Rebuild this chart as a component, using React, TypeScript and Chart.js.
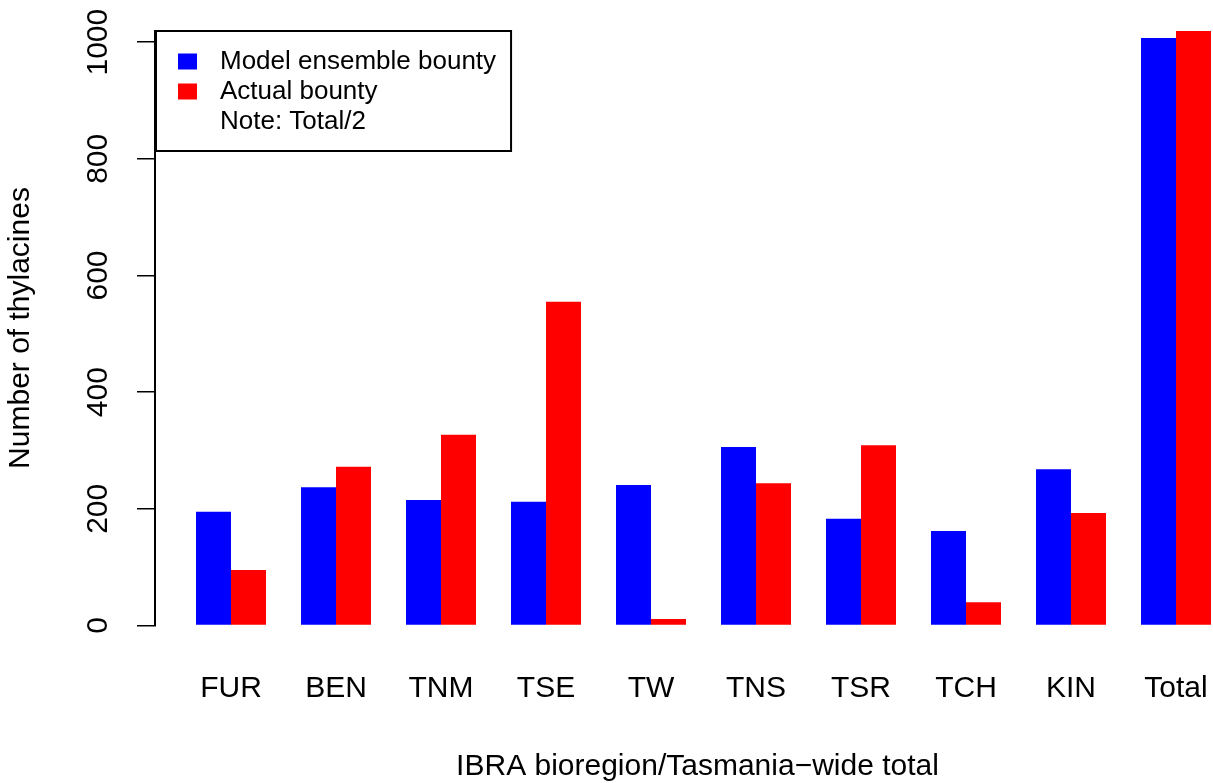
import React, { useEffect, useRef } from "react";
import { Chart, registerables } from "chart.js";

Chart.register(...registerables);

const categories = ["FUR", "BEN", "TNM", "TSE", "TW", "TNS", "TSR", "TCH", "KIN", "Total"];
const modelBounty = [195, 237, 215, 212, 241, 306, 183, 162, 268, 1007];
const actualBounty = [95, 272, 327, 555, 11, 244, 309, 40, 193, 1019];
const yTickValues = [0, 200, 400, 600, 800, 1000];
const seriesLabels = ["Model ensemble bounty", "Actual bounty"];
const seriesColors = ["#0000FF", "#FF0000"];
const legendNote = "Note: Total/2";
const yTitle = "Number of thylacines";
const xTitle = "IBRA bioregion/Tasmania\u2212wide total";

const X_MIN = -0.7238;
const X_MAX = 9.6095;
const Y_MIN = 0;
const Y_MAX = 1020;

const FAMILY = "'Liberation Sans', Arial, Helvetica, sans-serif";

const rLegendPlugin = {
  id: "rLegend",
  afterDraw(chart: any) {
    const ctx = chart.ctx;
    const ca = chart.chartArea;
    ctx.save();
    ctx.font = `26px ${FAMILY}`;
    const items = [
      ...chart.data.datasets.map((d: any) => ({ text: d.label, color: d.backgroundColor })),
      { text: legendNote, color: null },
    ];
    const textX = ca.left + 65;
    const maxW = Math.max(...items.map((it: any) => ctx.measureText(it.text).width));
    const left = ca.left + 1;
    const top = ca.top + 0.5;
    const w = textX + maxW + 15 - left;
    const h = 120;
    ctx.fillStyle = "#ffffff";
    ctx.fillRect(left, top, w, h);
    ctx.lineWidth = 2;
    ctx.strokeStyle = "#000000";
    ctx.strokeRect(left, top, w, h);
    items.forEach((it: any, i: number) => {
      const cy = top + 31 + i * 30;
      if (it.color) {
        ctx.fillStyle = it.color;
        ctx.fillRect(ca.left + 23, cy - 8.5, 19, 16);
      }
      ctx.fillStyle = "#000000";
      ctx.textBaseline = "middle";
      ctx.textAlign = "left";
      ctx.fillText(it.text, textX, cy);
    });
    ctx.restore();
  },
};

export default function App() {
  const canvasRef = useRef<HTMLCanvasElement | null>(null);

  useEffect(() => {
    if (!canvasRef.current) return;
    Chart.defaults.font.family = FAMILY;
    const chart = new Chart(canvasRef.current, {
      type: "bar",
      data: {
        datasets: [
          {
            label: seriesLabels[0],
            data: categories.map((_, i) => ({ x: i, y: modelBounty[i] })),
            backgroundColor: seriesColors[0],
            borderWidth: 0,
            categoryPercentage: 2 / 3,
            barPercentage: 1,
          },
          {
            label: seriesLabels[1],
            data: categories.map((_, i) => ({ x: i, y: actualBounty[i] })),
            backgroundColor: seriesColors[1],
            borderWidth: 0,
            categoryPercentage: 2 / 3,
            barPercentage: 1,
          },
        ],
      },
      options: {
        responsive: false,
        animation: false,
        devicePixelRatio: 1,
        layout: { padding: { top: 30.5, left: 0, right: 0, bottom: 0 } },
        plugins: {
          legend: { display: false },
          tooltip: { enabled: false },
        },
        scales: {
          x: {
            type: "linear",
            min: X_MIN,
            max: X_MAX,
            offset: false,
            grid: { display: false, drawTicks: false, offset: false },
            border: { display: false },
            afterBuildTicks: (s: any) => {
              s.ticks = categories.map((_, i) => ({ value: i }));
            },
            ticks: {
              callback: (_v: any, i: number) => categories[i],
              font: { family: FAMILY, size: 30 },
              color: "#000000",
              padding: 45.5,
              maxRotation: 0,
              minRotation: 0,
              autoSkip: false,
            },
            title: {
              display: true,
              text: xTitle,
              font: { family: FAMILY, size: 30, lineHeight: 1.2 },
              color: "#000000",
              padding: { top: 0, bottom: -1.5 },
            },
            afterFit: (s: any) => {
              s.height = 157.5;
              s.paddingLeft = 0;
              s.paddingRight = 0;
            },
          },
          y: {
            type: "linear",
            min: Y_MIN,
            max: Y_MAX,
            afterBuildTicks: (s: any) => {
              s.ticks = yTickValues.map((v) => ({ value: v }));
            },
            grid: {
              drawOnChartArea: false,
              drawTicks: true,
              tickLength: 18,
              color: "#000000",
              lineWidth: 1.5,
            },
            border: { display: true, color: "#000000", width: 2 },
            ticks: {
              font: { family: FAMILY, size: 30 },
              color: "#000000",
              padding: 4.6,
              minRotation: 90,
              maxRotation: 90,
              crossAlign: "center",
              callback: (v: any) => String(v),
            },
            title: {
              display: true,
              text: yTitle,
              font: { family: FAMILY, size: 30, lineHeight: 1.2 },
              color: "#000000",
              padding: { top: 3, bottom: 0 },
            },
            afterFit: (s: any) => {
              s.width = 155;
              s.paddingTop = 0;
              s.paddingBottom = 0;
            },
          },
        },
      } as any,
      plugins: [rLegendPlugin],
    });
    return () => chart.destroy();
  }, []);

  return (
    <div
      style={{
        position: "absolute",
        left: 0,
        top: 0,
        width: 1213,
        height: 783,
        overflow: "hidden",
        background: "#ffffff",
      }}
    >
      <canvas ref={canvasRef} width={1240} height={783} style={{ display: "block" }} />
    </div>
  );
}
